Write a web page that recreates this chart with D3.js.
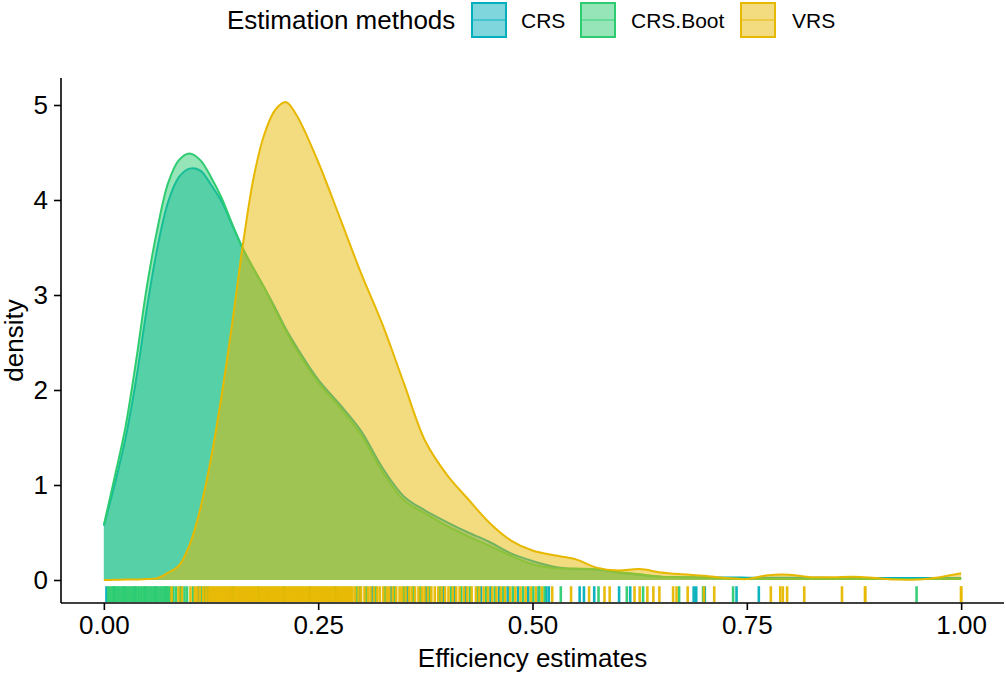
<!DOCTYPE html>
<html><head><meta charset="utf-8">
<script src="https://cdn.jsdelivr.net/npm/d3@7"></script>
<style>body{margin:0;background:#fff;} text{font-family:"Liberation Sans",Arial,sans-serif;}</style>
</head><body>
<svg id="chart" width="1006" height="675"></svg>
<script>
// ---- data ----
const methods = ["CRS", "CRS.Boot", "VRS"];
const colors = ["#00AFBB", "#2ECC71", "#E7B800"];
const gridX = [0,0.0125,0.025,0.0375,0.05,0.0625,0.075,0.0875,0.1,0.1125,0.125,0.1375,0.15,0.1625,0.175,0.1875,0.2,0.2125,0.225,0.25,0.275,0.3,0.325,0.35,0.375,0.4,0.425,0.45,0.475,0.5,0.525,0.55,0.575,0.6,0.625,0.65,0.675,0.7,0.725,0.75,0.775,0.8,0.825,0.85,0.875,0.9,0.925,0.95,0.975,1.0];
const densCRS = [0.57,1.0,1.48,2.1,2.85,3.5,3.98,4.24,4.33,4.31,4.16,3.98,3.73,3.48,3.27,3.07,2.86,2.64,2.45,2.11,1.85,1.57,1.18,0.88,0.73,0.61,0.50,0.40,0.28,0.20,0.14,0.115,0.11,0.08,0.055,0.035,0.03,0.028,0.026,0.025,0.024,0.023,0.023,0.022,0.022,0.021,0.021,0.02,0.02,0.02];
const densBoot = [0.58,1.08,1.60,2.30,3.08,3.70,4.18,4.42,4.49,4.42,4.24,4.02,3.74,3.48,3.27,3.07,2.84,2.62,2.42,2.08,1.82,1.53,1.14,0.84,0.70,0.57,0.46,0.36,0.255,0.165,0.125,0.12,0.115,0.085,0.06,0.035,0.03,0.024,0.016,0.012,0.011,0.01,0.01,0.01,0.01,0.01,0.01,0.01,0.01,0.01];
const densVRS = [0,0.002,0.004,0.006,0.01,0.02,0.077,0.15,0.37,0.75,1.28,1.95,2.72,3.55,4.25,4.70,4.95,5.03,4.89,4.40,3.82,3.23,2.69,2.07,1.46,1.11,0.85,0.60,0.415,0.31,0.26,0.22,0.13,0.10,0.115,0.08,0.06,0.045,0.022,0.01,0.05,0.055,0.03,0.03,0.035,0.02,0.004,0.006,0.03,0.07];
const rugCRS = [0.003,0.012,0.024,0.036,0.048,0.06,0.072,0.09,0.11,0.299,0.313,0.335,0.354,0.376,0.396,0.409,0.422,0.440,0.451,0.461,0.471,0.483,0.495,0.507,0.516,0.519,0.555,0.560,0.572,0.601,0.614,0.688,0.691,0.701,0.738,0.764];
const rugBoot = [0.005,0.007,0.009,0.011,0.013,0.015,0.017,0.019,0.021,0.023,0.025,0.027,0.029,0.031,0.033,0.035,0.037,0.039,0.041,0.043,0.045,0.047,0.049,0.051,0.053,0.055,0.057,0.059,0.061,0.063,0.065,0.067,0.069,0.071,0.073,0.075,0.077,0.081,0.084,0.089,0.094,0.097,0.104,0.114,0.118,0.121,0.15,0.18,0.21,0.24,0.27,0.295,0.306,0.317,0.328,0.339,0.350,0.361,0.369,0.380,0.392,0.405,0.417,0.427,0.436,0.446,0.456,0.466,0.477,0.489,0.501,0.508,0.514,0.533,0.577,0.610,0.629,0.671,0.699,0.734,0.948];
const rugVRS = [0.079,0.087,0.091,0.101,0.106,0.109,0.112,0.116,0.119,0.122,0.124,0.126,0.128,0.130,0.132,0.134,0.136,0.138,0.140,0.142,0.144,0.146,0.148,0.150,0.152,0.154,0.156,0.158,0.160,0.162,0.164,0.166,0.168,0.170,0.172,0.174,0.176,0.178,0.180,0.182,0.184,0.186,0.188,0.190,0.192,0.194,0.196,0.198,0.200,0.202,0.204,0.206,0.208,0.210,0.212,0.214,0.216,0.218,0.220,0.222,0.224,0.226,0.228,0.230,0.232,0.234,0.236,0.238,0.240,0.242,0.244,0.246,0.248,0.250,0.252,0.254,0.256,0.258,0.260,0.262,0.264,0.266,0.268,0.270,0.272,0.274,0.276,0.278,0.280,0.282,0.284,0.286,0.288,0.290,0.293,0.297,0.300,0.304,0.308,0.311,0.315,0.319,0.322,0.326,0.330,0.333,0.337,0.341,0.345,0.348,0.352,0.356,0.359,0.363,0.367,0.371,0.374,0.378,0.382,0.386,0.390,0.394,0.398,0.402,0.407,0.411,0.415,0.420,0.424,0.429,0.434,0.438,0.443,0.448,0.453,0.458,0.463,0.468,0.474,0.480,0.486,0.492,0.498,0.504,0.511,0.523,0.545,0.566,0.584,0.590,0.619,0.625,0.634,0.641,0.648,0.664,0.668,0.681,0.700,0.712,0.778,0.789,0.792,0.797,0.817,0.861,0.888,0.888,1.0,1.0];
const xTicks = [0, 0.25, 0.5, 0.75, 1.0];
const xTickLabels = ["0.00", "0.25", "0.50", "0.75", "1.00"];
const yTicks = [0, 1, 2, 3, 4, 5];
const densities = [densCRS, densBoot, densVRS];
const rugs = [rugCRS, rugBoot, rugVRS];

// ---- layout ----
const svg = d3.select("#chart");
const L = 61, R = 1004, T = 78, B = 603;
const x = d3.scaleLinear().domain([-0.05, 1.05]).range([L, R]);
const y = d3.scaleLinear().domain([-0.2421, 5.2842]).range([B, T]);
const FS = 26;

const curve = d3.curveCatmullRom.alpha(0.5);
const area = d3.area().x(d => x(d[0])).y0(y(0)).y1(d => y(Math.max(0, d[1]))).curve(curve);
const line = d3.line().x(d => x(d[0])).y(d => y(d[1])).curve(curve);

const g = svg.append("g");
methods.forEach((m, i) => {
  const pts = gridX.map((xv, j) => [xv, densities[i][j]]);
  g.append("path").attr("d", area(pts)).attr("fill", colors[i]).attr("fill-opacity", 0.5);
  g.append("path").attr("d", line(pts)).attr("fill", "none").attr("stroke", colors[i]).attr("stroke-width", 2);
});

// rug
const rugLen = (B - T) * 0.03;
methods.forEach((m, i) => {
  g.append("g").selectAll("line").data(rugs[i]).join("line")
    .attr("x1", d => x(d)).attr("x2", d => x(d))
    .attr("y1", B - 1).attr("y2", B - 1 - rugLen)
    .attr("stroke", colors[i]).attr("stroke-width", 2.6).attr("stroke-opacity", 0.95);
});

// axes
const xAxis = d3.axisBottom(x).tickValues(xTicks).tickFormat((d, i) => xTickLabels[i]).tickSize(7).tickPadding(6);
const gx = svg.append("g").attr("transform", `translate(0,${B})`).call(xAxis);
gx.select(".domain").attr("d", `M${L},0H${R}`).attr("stroke", "#000").attr("stroke-width", 1.6);
gx.selectAll(".tick line").attr("stroke", "#000").attr("stroke-width", 1.6);
gx.selectAll(".tick text").attr("font-size", FS).attr("fill", "#000").attr("font-family", "Liberation Sans, Arial, sans-serif");

const yAxis = d3.axisLeft(y).tickValues(yTicks).tickFormat(d3.format("d")).tickSize(7).tickPadding(6);
const gy = svg.append("g").attr("transform", `translate(${L},0)`).call(yAxis);
gy.select(".domain").attr("d", `M0,${T}V${B}`).attr("stroke", "#000").attr("stroke-width", 1.6);
gy.selectAll(".tick line").attr("stroke", "#000").attr("stroke-width", 1.6);
gy.selectAll(".tick text").attr("font-size", FS).attr("fill", "#000").attr("font-family", "Liberation Sans, Arial, sans-serif");

svg.append("text").attr("x", (L + R) / 2).attr("y", 667).attr("text-anchor", "middle")
  .attr("font-size", FS).attr("fill", "#000").text("Efficiency estimates");
svg.append("text").attr("transform", `translate(23,${(T + B) / 2}) rotate(-90)`).attr("text-anchor", "middle")
  .attr("font-size", FS).attr("fill", "#000").text("density");

// legend
const lg = svg.append("g");
lg.append("text").attr("x", 227).attr("y", 29).attr("font-size", FS).attr("fill", "#000").text("Estimation methods");
const keyX = [472, 581, 741];
const labX = [521, 631, 792];
methods.forEach((m, i) => {
  lg.append("rect").attr("x", keyX[i]).attr("y", 3).attr("width", 34).attr("height", 34)
    .attr("fill", colors[i]).attr("fill-opacity", 0.5).attr("stroke", colors[i]).attr("stroke-width", 2);
  lg.append("line").attr("x1", keyX[i] + 1).attr("x2", keyX[i] + 33).attr("y1", 20).attr("y2", 20)
    .attr("stroke", colors[i]).attr("stroke-opacity", 0.45).attr("stroke-width", 2);
  lg.append("text").attr("x", labX[i]).attr("y", 28).attr("font-size", 21).attr("fill", "#000").text(m);
});
</script>
</body></html>
